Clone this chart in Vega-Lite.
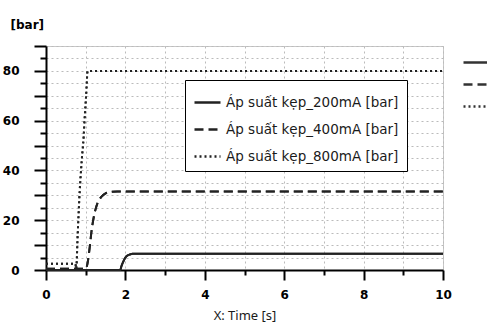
{
  "$schema": "https://vega.github.io/schema/vega-lite/v6.json",
  "width": 397,
  "height": 224,
  "autosize": {"type": "none"},
  "padding": {"left": 46, "top": 46, "right": 44, "bottom": 52},
  "background": "white",
  "config": {
    "view": {"stroke": "#c8c8c8", "strokeWidth": 1},
    "font": "DejaVu Sans"
  },
  "data": {
    "values": [
      {"series": "Áp suất kẹp_200mA [bar]", "t": 0, "p": 0},
      {"series": "Áp suất kẹp_200mA [bar]", "t": 1.87, "p": 0},
      {"series": "Áp suất kẹp_200mA [bar]", "t": 1.9, "p": 1.5},
      {"series": "Áp suất kẹp_200mA [bar]", "t": 1.95, "p": 3.5},
      {"series": "Áp suất kẹp_200mA [bar]", "t": 2.0, "p": 5},
      {"series": "Áp suất kẹp_200mA [bar]", "t": 2.05, "p": 5.8},
      {"series": "Áp suất kẹp_200mA [bar]", "t": 2.1, "p": 6.2},
      {"series": "Áp suất kẹp_200mA [bar]", "t": 2.2, "p": 6.5},
      {"series": "Áp suất kẹp_200mA [bar]", "t": 10, "p": 6.5},
      {"series": "Áp suất kẹp_400mA [bar]", "t": 0, "p": 0.5},
      {"series": "Áp suất kẹp_400mA [bar]", "t": 1.0, "p": 0.5},
      {"series": "Áp suất kẹp_400mA [bar]", "t": 1.05, "p": 3},
      {"series": "Áp suất kẹp_400mA [bar]", "t": 1.1, "p": 9},
      {"series": "Áp suất kẹp_400mA [bar]", "t": 1.15, "p": 16},
      {"series": "Áp suất kẹp_400mA [bar]", "t": 1.2, "p": 21},
      {"series": "Áp suất kẹp_400mA [bar]", "t": 1.25, "p": 24.5},
      {"series": "Áp suất kẹp_400mA [bar]", "t": 1.3, "p": 27},
      {"series": "Áp suất kẹp_400mA [bar]", "t": 1.4, "p": 29.5},
      {"series": "Áp suất kẹp_400mA [bar]", "t": 1.5, "p": 30.8},
      {"series": "Áp suất kẹp_400mA [bar]", "t": 1.6, "p": 31.3},
      {"series": "Áp suất kẹp_400mA [bar]", "t": 1.8, "p": 31.5},
      {"series": "Áp suất kẹp_400mA [bar]", "t": 10, "p": 31.5},
      {"series": "Áp suất kẹp_800mA [bar]", "t": 0, "p": 2.5},
      {"series": "Áp suất kẹp_800mA [bar]", "t": 0.74, "p": 2.5},
      {"series": "Áp suất kẹp_800mA [bar]", "t": 0.76, "p": 0.5},
      {"series": "Áp suất kẹp_800mA [bar]", "t": 0.8, "p": 15},
      {"series": "Áp suất kẹp_800mA [bar]", "t": 0.85, "p": 32},
      {"series": "Áp suất kẹp_800mA [bar]", "t": 0.9, "p": 44},
      {"series": "Áp suất kẹp_800mA [bar]", "t": 0.95, "p": 54},
      {"series": "Áp suất kẹp_800mA [bar]", "t": 0.97, "p": 60},
      {"series": "Áp suất kẹp_800mA [bar]", "t": 1.01, "p": 70},
      {"series": "Áp suất kẹp_800mA [bar]", "t": 1.05, "p": 80},
      {"series": "Áp suất kẹp_800mA [bar]", "t": 10, "p": 80}
    ]
  },
  "encoding": {
    "x": {
      "field": "t",
      "type": "quantitative",
      "scale": {"domain": [0, 10], "nice": false},
      "axis": {
        "values": [0, 1, 2, 3, 4, 5, 6, 7, 8, 9, 10],
        "labelExpr": "datum.value % 2 === 0 ? datum.label : ''",
        "tickSize": {"condition": {"test": "datum.value % 2 === 0", "value": 10}, "value": 5},
        "tickWidth": 2,
        "tickColor": "#000",
        "domainColor": "#000",
        "domainWidth": 2,
        "labelFont": "DejaVu Sans",
        "labelFontWeight": "bold",
        "labelFontSize": 12,
        "labelColor": "#000",
        "labelPadding": 9,
        "labelFlush": false,
        "grid": true,
        "gridColor": "#bbbbbb",
        "gridDash": [2, 3],
        "gridWidth": 1,
        "title": "X: Time [s]",
        "titleFont": "Noto Sans",
        "titleFontWeight": "normal",
        "titleFontSize": 13,
        "titleColor": "#1a1a1a",
        "titlePadding": 9
      }
    },
    "y": {
      "field": "p",
      "type": "quantitative",
      "scale": {"domain": [0, 90], "nice": false},
      "axis": {
        "values": [0, 5, 10, 15, 20, 25, 30, 35, 40, 45, 50, 55, 60, 65, 70, 75, 80, 85, 90],
        "labelExpr": "datum.value % 20 === 0 ? datum.label : ''",
        "tickSize": {"condition": {"test": "datum.value % 10 === 0", "value": 12}, "value": 6},
        "tickWidth": 2,
        "tickColor": "#000",
        "domainColor": "#000",
        "domainWidth": 2,
        "labelFont": "DejaVu Sans",
        "labelFontWeight": "bold",
        "labelFontSize": 12,
        "labelColor": "#000",
        "labelPadding": 15,
        "labelFlush": false,
        "grid": true,
        "gridColor": "#bbbbbb",
        "gridDash": [2, 3],
        "gridWidth": 1,
        "title": "[bar]",
        "titleAngle": 0,
        "titleAlign": "left",
        "titleBaseline": "middle",
        "titleX": -36,
        "titleY": -22,
        "titleFont": "DejaVu Sans",
        "titleFontWeight": "bold",
        "titleFontSize": 12,
        "titleColor": "#000"
      }
    }
  },
  "layer": [
    {
      "mark": {"type": "line", "color": "#222", "strokeWidth": 2, "interpolate": "monotone"},
      "encoding": {
        "strokeDash": {
          "field": "series",
          "type": "nominal",
          "scale": {
            "domain": ["Áp suất kẹp_200mA [bar]", "Áp suất kẹp_400mA [bar]", "Áp suất kẹp_800mA [bar]"],
            "range": [[1, 0], [9, 5], [2, 3]]
          },
          "legend": {
            "orient": "none",
            "legendX": 139,
            "legendY": 34,
            "title": null,
            "symbolType": "stroke",
            "symbolSize": 676,
            "symbolStrokeWidth": 2.5,
            "symbolStrokeColor": "#222",
            "labelFont": "DejaVu Sans",
            "labelFontSize": 13.5,
            "labelColor": "#1a1a1a",
            "labelLimit": 300,
            "labelOffset": 4,
            "rowPadding": 6,
            "padding": 8,
            "strokeColor": "#000",
            "fillColor": "white"
          }
        }
      }
    },
    {
      "mark": {"type": "line", "color": "#222", "strokeWidth": 2, "interpolate": "monotone"},
      "encoding": {
        "strokeDash": {
          "field": "series",
          "type": "nominal",
          "scale": {
            "domain": ["Áp suất kẹp_200mA [bar]", "Áp suất kẹp_400mA [bar]", "Áp suất kẹp_800mA [bar]"],
            "range": [[1, 0], [9, 5], [2, 3]]
          },
          "legend": {
            "orient": "none",
            "legendX": 416,
            "legendY": 0,
            "title": null,
            "symbolType": "stroke",
            "symbolSize": 900,
            "symbolStrokeWidth": 2.5,
            "symbolStrokeColor": "#333",
            "labelExpr": "''",
            "rowPadding": -11,
            "padding": 0
          }
        }
      }
    }
  ],
  "resolve": {"scale": {"strokeDash": "independent"}, "legend": {"strokeDash": "independent"}}
}
